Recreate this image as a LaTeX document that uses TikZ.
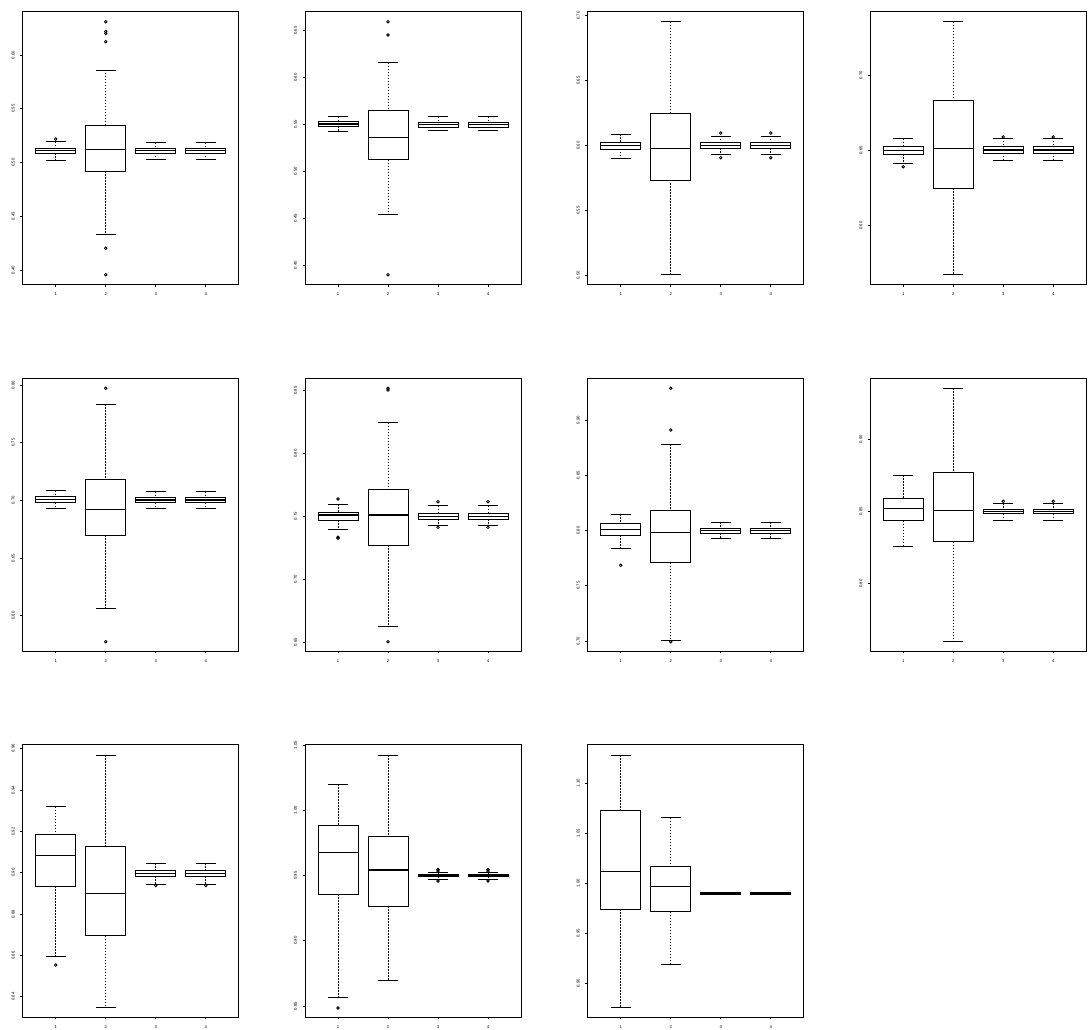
\documentclass[tikz,border=0pt]{standalone}
\usepackage{fontspec}
\setmainfont{Liberation Sans}
\newcounter{lab}
\tikzset{
 frm/.style={line width=0.7pt},
 bxl/.style={line width=0.9pt},
 mdl/.style={line width=1.3pt},
 wsk/.style={line width=0.65pt, dash pattern=on 1.5pt off 1.5pt},
 cpl/.style={line width=0.9pt},
 outl/.style={line width=0.8pt},
 tl/.style={font=\fontsize{4.2}{5}\selectfont, inner sep=0pt},
}
\newcommand\Bx[6]{%
 \draw[wsk] (#1,#2) -- (#1,#3) (#1,#5) -- (#1,#6);
 \draw[cpl] ({#1-10},#2) -- ({#1+10},#2) ({#1-10},#6) -- ({#1+10},#6);
 \draw[bxl] ({#1-20},#3) rectangle ({#1+20},#5);
 \draw[mdl] ({#1-20},#4) -- ({#1+20},#4);
}
\newcommand\Ot[2]{\draw[outl] (#1,#2) circle[radius=1.3pt];}
\newcommand\YT[3]{%
 \draw[frm] (#1,#2) -- ({#1-2.3},#2);
 \stepcounter{lab}\node[tl, rotate=90] (lab\the\value{lab}) at ({#1-9.5},#2) {#3};
}
\newcommand\Pn[2]{%
 \draw[frm] (#1,#2) rectangle ({#1+216},{#2+272.6});
 \foreach \k/\t in {33/1,83/2,133/3,183/4}{
   \draw[frm] ({#1+\k},{#2+272.6}) -- ({#1+\k},{#2+275});
   \stepcounter{lab}\node[tl] (lab\the\value{lab}) at ({#1+\k},{#2+282.3}) {\t};
 }
}
\begin{document}
\begin{tikzpicture}[x=1pt,y=-1pt]
\useasboundingbox (0,0) rectangle (1090,1030);
% ---------- Panel 1
\Pn{22.7}{11.7}
\YT{22.7}{55}{0.60}\YT{22.7}{108.75}{0.55}\YT{22.7}{162.5}{0.50}\YT{22.7}{216.25}{0.45}\YT{22.7}{270}{0.40}
\Bx{55.7}{141.7}{148.3}{150.7}{153.3}{160}\Ot{55.7}{139}
\Bx{105.7}{70}{125}{149.7}{171.3}{234.3}
\Ot{105.7}{21.7}\Ot{105.7}{31.5}\Ot{105.7}{33.5}\Ot{105.7}{41.7}\Ot{105.7}{248.3}\Ot{105.7}{274.7}
\Bx{155.7}{142.7}{148}{150.7}{153}{159.3}
\Bx{205.7}{142.7}{148}{150.7}{153}{159.3}
% ---------- Panel 2
\Pn{305}{11.7}
\YT{305}{30.7}{0.65}\YT{305}{77.6}{0.60}\YT{305}{124.4}{0.55}\YT{305}{171.3}{0.50}\YT{305}{218.1}{0.45}\YT{305}{265}{0.40}
\Bx{338}{116.7}{121.7}{124}{126.3}{131.3}
\Bx{388}{62.7}{110.3}{137.3}{159.7}{214}
\Ot{388}{21.7}\Ot{388}{35}\Ot{388}{274.7}
\Bx{438}{116.7}{122.3}{124.7}{127}{130}
\Bx{488}{116.7}{122.3}{124.7}{127}{130}
% ---------- Panel 3
\Pn{587.7}{11.7}
\YT{587.7}{15.7}{0.70}\YT{587.7}{80.7}{0.65}\YT{587.7}{145.7}{0.60}\YT{587.7}{210.7}{0.55}\YT{587.7}{275.3}{0.50}
\Bx{620.7}{134.3}{142.3}{145.3}{149}{158.3}
\Bx{670.7}{21.7}{113.3}{148.3}{180}{274.7}
\Bx{720.7}{136}{142.7}{145.7}{148.3}{154.3}\Ot{720.7}{133}\Ot{720.7}{157.7}
\Bx{770.7}{136}{142.7}{145.7}{148.3}{154.3}\Ot{770.7}{133}\Ot{770.7}{157.7}
% ---------- Panel 4
\Pn{870.3}{11.7}
\YT{870.3}{75.3}{0.70}\YT{870.3}{150.3}{0.65}\YT{870.3}{225.7}{0.60}
\Bx{903.3}{138.7}{146}{150.3}{154.3}{163.7}\Ot{903.3}{166.7}
\Bx{953.3}{21.7}{100.3}{148.7}{188.3}{274.7}
\Bx{1003.3}{138}{146.3}{150}{153}{160.3}\Ot{1003.3}{137}
\Bx{1053.3}{138}{146.3}{150}{153}{160.3}\Ot{1053.3}{137}
% ---------- Panel 5
\Pn{22.7}{378.3}
\YT{22.7}{385}{0.80}\YT{22.7}{442.7}{0.75}\YT{22.7}{500.3}{0.70}\YT{22.7}{558}{0.65}\YT{22.7}{615.7}{0.60}
\Bx{55.7}{490.7}{496.3}{499.7}{502.7}{508.7}
\Bx{105.7}{404.3}{479}{509.7}{535}{608.7}\Ot{105.7}{388.3}\Ot{105.7}{641.7}
\Bx{155.7}{491.7}{497.3}{500}{502.7}{508.3}
\Bx{205.7}{491.7}{497.3}{500}{502.7}{508.3}
% ---------- Panel 6
\Pn{305}{378.3}
\YT{305}{390.7}{0.85}\YT{305}{453.7}{0.80}\YT{305}{516.3}{0.75}\YT{305}{579.3}{0.70}\YT{305}{642.3}{0.65}
\Bx{338}{504}{512.3}{515}{520.3}{529.7}\Ot{338}{499}\Ot{338}{537.3}\Ot{338}{538.3}
\Bx{388}{422.7}{489.7}{515}{545}{626.7}\Ot{388}{388.3}\Ot{388}{390}\Ot{388}{641.7}
\Bx{438}{505.7}{513.3}{516.7}{519}{525.7}\Ot{438}{501.7}\Ot{438}{527.3}
\Bx{488}{505.7}{513.3}{516.7}{519}{525.7}\Ot{488}{501.7}\Ot{488}{527.3}
% ---------- Panel 7
\Pn{587.7}{378.3}
\YT{587.7}{420}{0.90}\YT{587.7}{475.3}{0.85}\YT{587.7}{530.7}{0.80}\YT{587.7}{585.7}{0.75}\YT{587.7}{641}{0.70}
\Bx{620.7}{514}{523.3}{529.7}{535.3}{548.3}\Ot{620.7}{565.3}
\Bx{670.7}{444.3}{510.7}{532.7}{562.7}{640.7}\Ot{670.7}{388.3}\Ot{670.7}{430}\Ot{670.7}{641.7}
\Bx{720.7}{522}{528}{530.7}{533.3}{538.3}
\Bx{770.7}{522}{528}{530.7}{533.3}{538.3}
% ---------- Panel 8
\Pn{870.3}{378.3}
\YT{870.3}{439.3}{0.90}\YT{870.3}{511.3}{0.85}\YT{870.3}{583.7}{0.80}
\Bx{903.3}{475}{498}{508.7}{520.7}{546.7}
\Bx{953.3}{388.3}{472.3}{510.7}{541.7}{641.7}
\Bx{1003.3}{503.3}{509}{511.3}{513.7}{520.3}\Ot{1003.3}{501.3}
\Bx{1053.3}{503.3}{509}{511.3}{513.7}{520.3}\Ot{1053.3}{501.3}
% ---------- Panel 9
\Pn{22.7}{744.3}
\YT{22.7}{748.3}{0.96}\YT{22.7}{790}{0.94}\YT{22.7}{831.7}{0.92}\YT{22.7}{872.7}{0.90}\YT{22.7}{914.3}{0.88}\YT{22.7}{955.7}{0.86}\YT{22.7}{996.7}{0.84}
\Bx{55.7}{806.7}{834.7}{855.3}{886}{956}\Ot{55.7}{965}
\Bx{105.7}{755}{846}{893.3}{935.7}{1007.7}
\Bx{155.7}{863.3}{870.7}{873.3}{876.3}{884.7}\Ot{155.7}{885.5}
\Bx{205.7}{863.3}{870.7}{873.3}{876.3}{884.7}\Ot{205.7}{885.5}
% ---------- Panel 10
\Pn{305}{744.3}
\YT{305}{745}{1.05}\YT{305}{810.3}{1.00}\YT{305}{875.7}{0.95}\YT{305}{940.7}{0.90}\YT{305}{1006}{0.85}
\Bx{338}{784}{825.3}{852.7}{894.3}{997.3}\Ot{338}{1008}
\Bx{388}{755}{836}{870}{906}{980.7}
\Bx{438}{872.7}{874.3}{875.3}{876.7}{879.3}\Ot{438}{869.5}\Ot{438}{871}\Ot{438}{881}
\Bx{488}{872.7}{874.3}{875.3}{876.7}{879.3}\Ot{488}{869.5}\Ot{488}{871}\Ot{488}{881}
% ---------- Panel 11
\Pn{587.7}{744.3}
\YT{587.7}{783.3}{1.10}\YT{587.7}{833.3}{1.05}\YT{587.7}{883.3}{1.00}\YT{587.7}{933.3}{0.95}\YT{587.7}{983.3}{0.90}
\Bx{620.7}{755}{810}{871.7}{909}{1007.7}
\Bx{670.7}{817.7}{866.3}{886.3}{911.7}{964.7}
\Bx{720.7}{893}{892.7}{893.3}{894}{893.6}
\Bx{770.7}{893}{892.7}{893.3}{894}{893.6}
\end{tikzpicture}
\end{document}
